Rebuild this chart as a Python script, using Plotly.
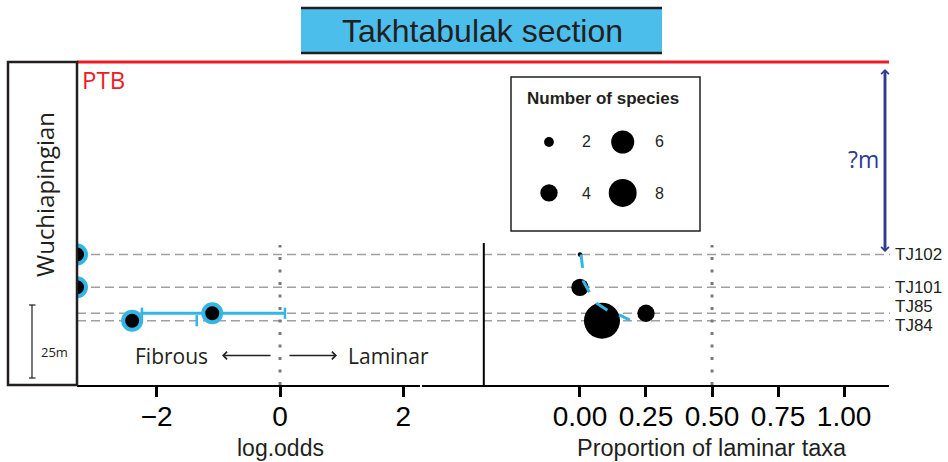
import math
import plotly.graph_objects as go

W, H = 948, 462

# ---- data -------------------------------------------------------------
sites = ["TJ102", "TJ101", "TJ85", "TJ84"]
height_m = [22.7, 11.45, 2.55, 0.0]          # stratigraphic height above TJ84
n_species = [1, 4, 4, 12]
n_laminar = [0, 0, 1, 1]
ci_low = [None, None, -2.24, None]           # log-odds confidence limits
ci_high = [None, None, 0.08, -1.35]

# smoothed trend of laminar proportion against height
trend_prop = [0.004, 0.010, 0.013, 0.038, 0.063, 0.107, 0.149, 0.189]
trend_height = [22.7, 18.1, 13.5, 9.4, 6.0, 3.4, 1.95, 0.2]

legend_counts = [2, 6, 4, 8]
logodds_ticks = [-2, 0, 2]
prop_ticks = [0.0, 0.25, 0.5, 0.75, 1.0]

# ---- derived values ---------------------------------------------------
prop = [l / n for l, n in zip(n_laminar, n_species)]
log_odds = [math.log(p / (1 - p)) if p > 0 else float("-inf") for p in prop]

X1_RANGE = [-3.292, 2.27]
X2_RANGE = [-0.598, 1.17]
Y_RANGE = [-22.04, 88.66]


def dot_diameter(n):
    return 12.8 * math.sqrt(n) - 8.3


def px(x):
    return x / W


def py(y):
    return 1 - y / H


BLUE = "#33B5E6"
NAVY = "#2E3A94"
RED = "#ED1C24"
INK = "#231F20"
TXT = "Open Sans"
NUM = "Liberation Sans"

# -inf log-odds are squished to the panel edge
lo_plot = [max(v, X1_RANGE[0]) for v in log_odds]

fig = go.Figure()

# confidence intervals on the log-odds panel
for h, lo, hi in zip(height_m, ci_low, ci_high):
    if lo is not None and hi is not None:
        fig.add_trace(go.Scatter(x=[lo, hi], y=[h, h], mode="lines",
                                 line=dict(color=BLUE, width=3),
                                 xaxis="x", yaxis="y", hoverinfo="skip"))
    caps = [v for v in (lo, hi) if v is not None]
    if caps:
        fig.add_trace(go.Scatter(x=caps, y=[h] * len(caps), mode="markers",
                                 marker=dict(symbol="line-ns", size=8,
                                             line=dict(color=BLUE, width=2.5)),
                                 xaxis="x", yaxis="y", hoverinfo="skip"))

fig.add_trace(go.Scatter(x=lo_plot, y=height_m, mode="markers",
                         marker=dict(color="black", size=18, opacity=1,
                                     line=dict(color=BLUE, width=4)),
                         xaxis="x", yaxis="y", text=sites))

# proportion panel
fig.add_trace(go.Scatter(x=prop, y=height_m, mode="markers",
                         marker=dict(color="black", opacity=1,
                                     size=[dot_diameter(n) for n in n_species],
                                     line=dict(width=0)),
                         xaxis="x2", yaxis="y", text=sites))
fig.add_trace(go.Scatter(x=trend_prop, y=trend_height, mode="lines",
                         line=dict(color=BLUE, width=3, dash="13.5px,12.5px"),
                         xaxis="x2", yaxis="y", hoverinfo="skip"))

# size legend
leg_x = [0.201, 0.591, 0.201, 0.591]
leg_y = [0.578, 0.578, 0.247, 0.247]
fig.add_trace(go.Scatter(x=leg_x, y=leg_y, mode="markers",
                         marker=dict(color="black", opacity=1,
                                     size=[dot_diameter(n) for n in legend_counts],
                                     line=dict(width=0)),
                         xaxis="x3", yaxis="y3", hoverinfo="skip",
                         cliponaxis=False))

axis_common = dict(showline=True, linecolor="black", linewidth=2,
                   ticks="outside", ticklen=10, tickwidth=3, tickcolor="black",
                   tickfont=dict(family=NUM, size=28, color="black"),
                   ticklabelstandoff=-5,
                   showgrid=False, zeroline=False, anchor="y", fixedrange=True)

fig.update_layout(
    width=W, height=H, margin=dict(l=0, r=0, t=0, b=0),
    paper_bgcolor="white", plot_bgcolor="white", showlegend=False,
    xaxis=dict(domain=[px(77), px(420)], range=X1_RANGE,
               tickvals=logodds_ticks, **axis_common),
    xaxis2=dict(domain=[px(422), px(889)], range=X2_RANGE,
                tickvals=prop_ticks, tickformat=".2f", **axis_common),
    yaxis=dict(domain=[py(385), py(62)], range=Y_RANGE, visible=False,
               fixedrange=True),
    xaxis3=dict(domain=[px(511), px(700)], range=[0, 1], visible=False,
                anchor="y3", fixedrange=True),
    yaxis3=dict(domain=[py(231), py(77)], range=[0, 1], visible=False,
                anchor="x3", fixedrange=True),
)

shapes = []
# site levels
for h in height_m:
    shapes.append(dict(type="line", xref="paper", yref="y", x0=px(77), x1=px(890),
                       y0=h, y1=h, line=dict(color="#A0A0A0", width=1.5, dash="9px,5px"),
                       layer="below"))
# reference lines: log-odds 0 and proportion 0.5
shapes.append(dict(type="line", xref="x", yref="y", x0=0, x1=0, y0=Y_RANGE[0], y1=25.9,
                   line=dict(color="#7A7A7A", width=3, dash="3px,9.5px"), layer="below"))
shapes.append(dict(type="line", xref="x2", yref="y", x0=0.5, x1=0.5, y0=Y_RANGE[0], y1=25.9,
                   line=dict(color="#7A7A7A", width=3, dash="3px,9.5px"), layer="below"))
# proportion-panel y axis
shapes.append(dict(type="line", xref="x2", yref="y", x0=-0.364, x1=-0.364,
                   y0=Y_RANGE[0], y1=26.6, line=dict(color="black", width=2)))
# PTB boundary
shapes.append(dict(type="line", xref="paper", yref="paper", x0=px(77), x1=px(889),
                   y0=py(62), y1=py(62), line=dict(color=RED, width=3)))
# stage column
shapes.append(dict(type="rect", xref="paper", yref="paper", x0=px(8), x1=px(77),
                   y0=py(385), y1=py(62), line=dict(color=INK, width=2.5)))
# 25 m scale bar
shapes.append(dict(type="line", xref="paper", yref="paper", x0=px(32), x1=px(32),
                   y0=py(378), y1=py(305), line=dict(color=INK, width=1.2)))
for yy in (305, 378):
    shapes.append(dict(type="line", xref="paper", yref="paper", x0=px(29), x1=px(35.5),
                       y0=py(yy), y1=py(yy), line=dict(color=INK, width=1.2)))
# title banner
shapes.append(dict(type="rect", xref="paper", yref="paper", x0=px(301), x1=px(662),
                   y0=py(53), y1=py(8), fillcolor="#4BBEEC", line=dict(width=0)))
for yy in (8, 53):
    shapes.append(dict(type="line", xref="paper", yref="paper", x0=px(301), x1=px(662),
                       y0=py(yy), y1=py(yy), line=dict(color=INK, width=2.5)))
# legend frame
shapes.append(dict(type="rect", xref="paper", yref="paper", x0=px(511), x1=px(700),
                   y0=py(231), y1=py(77), line=dict(color=INK, width=1.5)))
fig.update_layout(shapes=shapes)

ann = []


def text(t, x, y, size, color=INK, family=TXT, xanchor="center", **kw):
    ann.append(dict(text=t, x=px(x), y=py(y), xref="paper", yref="paper",
                    xanchor=xanchor, yanchor="middle", showarrow=False,
                    font=dict(family=family, size=size, color=color), **kw))


text("Takhtabulak section", 482, 31, 32, family=NUM)
text("PTB", 80, 79, 24, color=RED, xanchor="left")
text("Wuchiapingian", 44, 195, 24, textangle=-90)
text("25m", 54.5, 352, 13)
text("?m", 863, 159, 23, color=NAVY)
text("Fibrous", 171, 356, 21)
text("Laminar", 388, 356, 21)
text("log.odds", 280, 448, 23, family=NUM)
text("Proportion of laminar taxa", 712, 448, 23.5, family=NUM)
text("<b>Number of species</b>", 603, 98, 17, family=NUM)
for c, lx, ly in zip(legend_counts, [586, 659, 586, 659], [142, 142, 193, 193]):
    text(str(c), lx, ly, 16, family=NUM)

# site labels at the right margin, pulled apart where levels are close
label_nudge = {"TJ85": 7, "TJ84": -5}
for s, h in zip(sites, height_m):
    ann.append(dict(text=s, x=px(893), y=h, xref="paper", yref="y",
                    xanchor="left", yanchor="middle", yshift=label_nudge.get(s, 0),
                    showarrow=False, font=dict(family=NUM, size=17, color=INK)))

# double-headed thickness arrow
for (hx, hy), (tx, ty) in [((885, 252), (885, 69)), ((885, 69), (885, 252))]:
    ann.append(dict(x=px(hx), y=py(hy), xref="paper", yref="paper", ax=0, ay=ty - hy,
                    showarrow=True, text="", arrowhead=4, arrowsize=0.6,
                    arrowwidth=2.5, arrowcolor=NAVY))
# direction arrows
for (hx, tx) in [(222, 272), (337, 288)]:
    ann.append(dict(x=px(hx), y=py(355.5), xref="paper", yref="paper", ax=tx - hx, ay=0,
                    showarrow=True, text="", arrowhead=4, arrowsize=1.0,
                    arrowwidth=1.5, arrowcolor=INK))

fig.update_layout(annotations=ann)
fig.write_html("out.html")
